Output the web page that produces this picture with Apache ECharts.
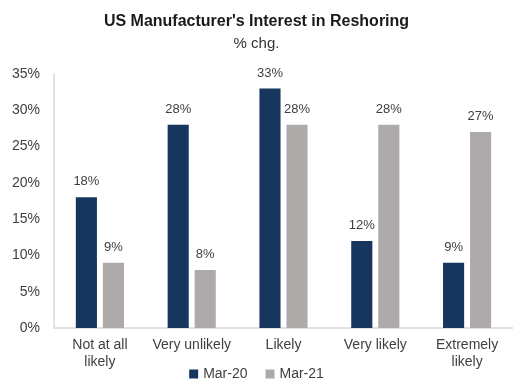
<!DOCTYPE html>
<html>
<head>
<meta charset="utf-8">
<script src="https://cdn.jsdelivr.net/npm/echarts@6/dist/echarts.min.js"></script>
<style>
  html, body { margin: 0; padding: 0; background: #fff; }
  #chart { width: 513px; height: 385px; }
</style>
</head>
<body>
<div id="chart"></div>
<script>
// categories and values (percent)
const categories = ['Not at all\nlikely', 'Very unlikely', 'Likely', 'Very likely', 'Extremely\nlikely'];
const mar20 = [18, 28, 33, 12, 9];
const mar21 = [9, 8, 28, 28, 27];
const yTicks = [0, 5, 10, 15, 20, 25, 30, 35];

const font = '"Liberation Sans Narrow", "Liberation Sans", sans-serif';
const textColor = '#404040';

const myChart = echarts.init(document.getElementById('chart'));
const option = {
  title: {
    text: "US Manufacturer's Interest in Reshoring",
    subtext: '% chg.',
    left: 'center',
    top: 9,
    itemGap: 6,
    textStyle: { fontFamily: font, fontSize: 16, fontWeight: 'bold', color: '#1a1a1a' },
    subtextStyle: { fontFamily: font, fontSize: 15, color: '#333' }
  },
  legend: {
    bottom: -1,
    left: 'center',
    itemWidth: 9,
    itemHeight: 9,
    itemGap: 18,
    icon: 'rect',
    textStyle: { fontFamily: font, fontSize: 14, color: textColor },
    data: ['Mar-20', 'Mar-21']
  },
  grid: { left: 54, right: 0, top: 74, bottom: 57 },
  xAxis: {
    type: 'category',
    data: categories,
    axisLine: { lineStyle: { color: '#d9d9d9', width: 1.5 } },
    axisTick: { show: false },
    axisLabel: { fontFamily: font, fontSize: 14, color: textColor, lineHeight: 17, margin: 9, interval: 0 }
  },
  yAxis: {
    type: 'value',
    min: yTicks[0],
    max: yTicks[yTicks.length - 1],
    interval: 5,
    splitLine: { show: false },
    axisLine: { show: true, lineStyle: { color: '#d9d9d9', width: 1.5 } },
    axisTick: { show: false },
    axisLabel: { fontFamily: font, fontSize: 14, color: textColor, margin: 14, formatter: '{value}%' }
  },
  series: [
    {
      name: 'Mar-20',
      type: 'bar',
      data: mar20,
      barWidth: '23%',
      barGap: '28%',
      itemStyle: { color: '#17365d' },
      label: { show: true, position: 'top', distance: 9, formatter: '{c}%', fontFamily: font, fontSize: 13, color: textColor }
    },
    {
      name: 'Mar-21',
      type: 'bar',
      data: mar21,
      barWidth: '23%',
      itemStyle: { color: '#aeaaaa' },
      label: { show: true, position: 'top', distance: 9, formatter: '{c}%', fontFamily: font, fontSize: 13, color: textColor }
    }
  ]
};
myChart.setOption(option);
</script>
</body>
</html>
